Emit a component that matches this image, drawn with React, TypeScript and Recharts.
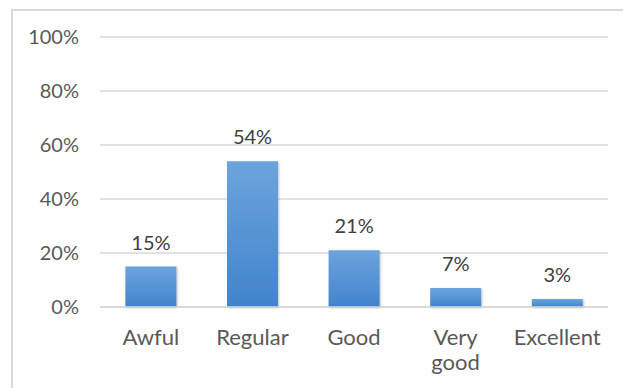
import React from "react";
import { BarChart, Bar, XAxis, YAxis, CartesianGrid, LabelList } from "recharts";

const categories = ["Awful", "Regular", "Good", "Very good", "Excellent"];
const shares = [15, 54, 21, 7, 3];
const yTicks = [0, 20, 40, 60, 80, 100];

const data = categories.map((c, i) => ({ name: c, value: shares[i] }));

const FONT = "Lato, 'Open Sans', sans-serif";

const XTick = (props: any) => {
  const { x, y, payload } = props;
  const lines = String(payload.value).split(" ");
  return (
    <g>
      {lines.map((l, i) => (
        <text
          key={i}
          x={x}
          y={y + 38 + i * 25}
          textAnchor="middle"
          fill="#595959"
          fontSize={22}
          fontFamily={FONT}
        >
          {l}
        </text>
      ))}
    </g>
  );
};

export default function App() {
  return (
    <div style={{ position: "absolute", left: 0, top: 0, width: 623, height: 388, overflow: "hidden", background: "#fff" }}>
      <div
        style={{
          position: "absolute",
          left: 11,
          top: 9,
          width: 800,
          height: 600,
          border: "2px solid #d9d9d9",
          boxSizing: "border-box",
        }}
      />
      <div style={{ position: "absolute", left: 0, top: 0 }}>
        <BarChart
          width={623}
          height={388}
          data={data}
          margin={{ top: 37, right: 15, left: 0, bottom: 0 }}
          barCategoryGap="25%"
        >
          <defs>
            <linearGradient id="barGrad" x1="0" y1="0" x2="0" y2="1">
              <stop offset="0%" stopColor="#6ca4dd" />
              <stop offset="100%" stopColor="#4184cc" />
            </linearGradient>
            <filter id="shadow" x="-20%" y="-20%" width="140%" height="140%">
              <feDropShadow dx="1" dy="1" stdDeviation="1.2" floodColor="#000" floodOpacity="0.25" />
            </filter>
          </defs>
          <CartesianGrid vertical={false} stroke="#d9d9d9" strokeWidth={1.5} />
          <XAxis
            dataKey="name"
            height={81}
            tickLine={false}
            axisLine={{ stroke: "#d9d9d9", strokeWidth: 1.5 }}
            tickSize={0}
            tickMargin={0}
            interval={0}
            tick={<XTick />}
          />
          <YAxis
            width={100}
            domain={[0, 100]}
            ticks={yTicks}
            tickFormatter={(v: number) => `${v}%`}
            axisLine={false}
            tickLine={false}
            tickSize={0}
            tickMargin={21}
            tick={{ fill: "#595959", fontSize: 20, fontFamily: FONT }}
          />
          <Bar dataKey="value" fill="url(#barGrad)" isAnimationActive={false} filter="url(#shadow)">
            <LabelList
              dataKey="value"
              position="top"
              offset={17}
              formatter={(v: any) => `${v}%`}
              style={{ fill: "#404040", fontSize: 20, fontFamily: FONT }}
            />
          </Bar>
        </BarChart>
      </div>
    </div>
  );
}
